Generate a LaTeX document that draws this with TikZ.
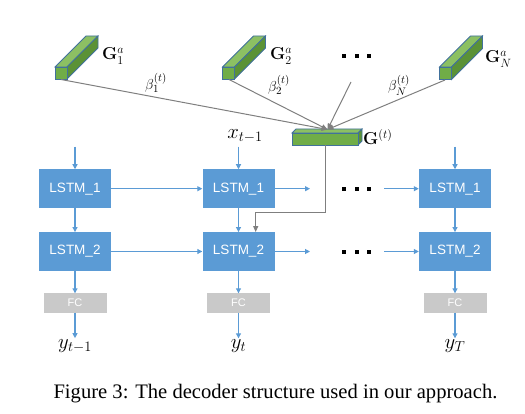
\documentclass[tikz,border=0pt]{standalone}
\usepackage[no-math]{fontspec}
\setmainfont{Liberation Serif}
\newfontfamily\boxfont{Liberation Sans}
\usetikzlibrary{arrows.meta}
\definecolor{lstmblue}{HTML}{5B9BD5}
\definecolor{fcgray}{HTML}{C9C9C9}
\definecolor{linegray}{HTML}{7F7F7F}
\definecolor{barfront}{HTML}{70AD47}
\definecolor{bartop}{HTML}{8CC063}
\definecolor{barside}{HTML}{5B9236}
\definecolor{baredge}{HTML}{41719C}
% green feature bar: x, y, width, height, depth
\newcommand{\gbar}[5]{%
  \filldraw[bartop,draw=baredge,line width=.8pt] (#1,#2) -- ++(#5,-#5) -- ++(#3,0) -- ++(-#5,#5) -- cycle;
  \filldraw[barside,draw=baredge,line width=.8pt] (#1+#3,#2) -- ++(#5,-#5) -- ++(0,#4) -- ++(-#5,#5) -- cycle;
  \filldraw[barfront,draw=baredge,line width=.8pt] (#1,#2) rectangle ++(#3,#4);}
\newcommand{\dotrow}[1]{%
  \foreach \d in {344,356.5,369}
    \fill (\d-2,#1-2) rectangle ++(4,4);}
\begin{document}
\begin{tikzpicture}[x=1pt,y=-1pt,
  lstm/.style={fill=lstmblue,text=white,minimum width=72pt,minimum height=38.5pt,
    inner sep=0pt,font=\boxfont\fontsize{13.5}{15}\selectfont},
  fcbox/.style={fill=fcgray,text=white,minimum width=63pt,minimum height=19pt,
    inner sep=0pt,font=\boxfont\fontsize{11}{12}\selectfont},
  flow/.style={lstmblue,line width=1.1pt,-{Triangle[length=5pt,width=5pt]}},
  attn/.style={linegray,line width=1pt,-{Triangle[length=6pt,width=5pt]}},
  glab/.style={anchor=west,inner sep=1pt,font=\fontsize{17}{19}\selectfont},
  wlab/.style={inner sep=1pt,font=\fontsize{15}{17}\selectfont},
  tlab/.style={font=\fontsize{21}{23}\selectfont,inner sep=1pt}]
\useasboundingbox (0,0) rectangle (525,414);

% feature bars
\gbar{55}{67}{12}{12}{31}
\gbar{222.5}{67}{12}{12}{31}
\gbar{439.5}{67}{12}{12.5}{31}
\gbar{292}{133}{66}{12}{4}
\coordinate (g1) at (61,79.5);
\coordinate (g2) at (229,79.5);
\coordinate (gn) at (445,80);
\coordinate (gd) at (351,82);
\coordinate (gt) at (327.5,129.5);
\coordinate (gtb) at (325.7,145);
\node[glab] (lg1) at (101,56) {$\mathbf{G}_1^a$};
\node[glab] (lg2) at (269,56) {$\mathbf{G}_2^a$};
\node[glab] (lgn) at (484,59) {$\mathbf{G}_N^a$};
\node[glab] (lgt) at (362,137) {$\mathbf{G}^{(t)}$};
\dotrow{55.7}

% attention weights
\draw[attn] (g1) -- (gt);
\draw[attn] (g2) -- (gt);
\draw[attn] (gn) -- (gt);
\draw[attn] (gd) -- (gt);
\node[wlab] (b1) at (156,83) {$\beta_1^{(t)}$};
\node[wlab] (b2) at (279,85) {$\beta_2^{(t)}$};
\node[wlab] (bn) at (399,85) {$\beta_N^{(t)}$};

% decoder steps
\node[tlab] (xin) at (245,136) {$x_{t-1}$};
\foreach \c/\x/\lab in {a/75/y_{t-1}, b/238.5/y_t, c/455/y_T} {
  \node[lstm] (l1\c) at (\x,188.7) {LSTM\_1};
  \node[lstm] (l2\c) at (\x,251.5) {LSTM\_2};
  \node[fcbox] (fc\c) at (\x,303) {FC};
  \node[tlab] (y\c) at (\x,346) {$\lab$};
  \coordinate (in\c) at (\x,146.7);
  \draw[flow] (in\c) -- (l1\c);
  \draw[flow] (l1\c) -- (l2\c);
  \draw[flow] (l2\c) -- (fc\c);
  \draw[flow] (fc\c) -- (y\c);
}
\draw[flow] (l1a) -- (l1b);
\draw[flow] (l2a) -- (l2b);
\coordinate (h1) at (310,188.7);
\coordinate (h1c) at (384,188.7);
\coordinate (h2) at (310,251.5);
\coordinate (h2c) at (384,251.5);
\draw[flow] (l1b) -- (h1);
\draw[flow] (h1c) -- (l1c);
\draw[flow] (l2b) -- (h2);
\draw[flow] (h2c) -- (l2c);
\dotrow{188.7}
\dotrow{252.5}
\coordinate (bend) at (255.7,212.3);
\draw[attn] (gtb) |- (bend) -- (bend |- l2b.north);

\node[anchor=base west,font=\fontsize{20.6}{23}\selectfont] (cap) at (50,398)
  {Figure 3: The decoder structure used in our approach.};
\end{tikzpicture}
\end{document}
